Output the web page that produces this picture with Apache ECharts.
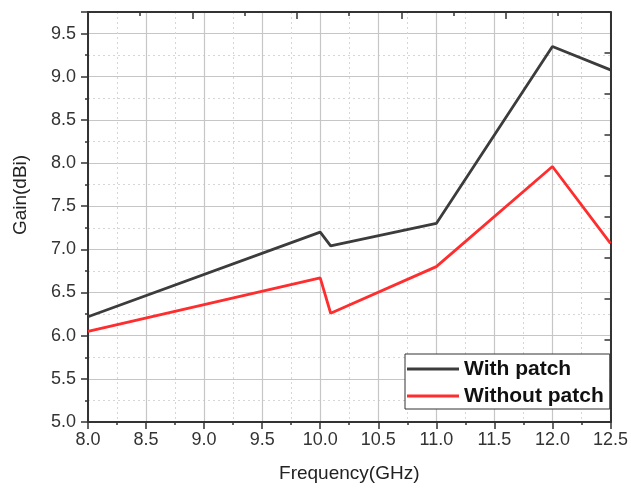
<!DOCTYPE html>
<html>
<head>
<meta charset="utf-8">
<script src="https://cdn.jsdelivr.net/npm/echarts@6/dist/echarts.min.js"></script>
<style>
html,body{margin:0;padding:0;background:#fff;}
#chart{width:631px;height:488px;}
</style>
</head>
<body>
<div id="chart"></div>
<script>
var seriesNames = ['With patch', 'Without patch'];
var freq = [8.0, 10.0, 10.09, 11.0, 12.0, 12.5];
var withPatch = [6.22, 7.20, 7.04, 7.30, 9.35, 9.08];
var withoutPatch = [6.05, 6.67, 6.26, 6.80, 7.96, 7.07];
var xName = 'Frequency(GHz)';
var yName = 'Gain(dBi)';

function pairs(xs, ys) { return xs.map(function (x, i) { return [x, ys[i]]; }); }

var FONT = 'Liberation Sans, Arial, sans-serif';
var chart = echarts.init(document.getElementById('chart'), null, {renderer: 'canvas'});
chart.setOption({
  backgroundColor: '#ffffff',
  animation: false,
  grid: {left: 88, right: 18, top: 12, bottom: 65, containLabel: false},
  legend: {
    orient: 'vertical',
    left: 405, top: 354,
    backgroundColor: '#ffffff',
    borderColor: '#333333', borderWidth: 1, borderRadius: 0,
    padding: [4, 6, 2, 2],
    icon: 'rect',
    itemWidth: 52, itemHeight: 3, itemGap: 5,
    textStyle: {fontFamily: FONT, fontSize: 21, fontWeight: 'bold', color: '#111', lineHeight: 22},
    data: seriesNames
  },
  xAxis: [{
    type: 'value', position: 'bottom', min: 8, max: 12.5, interval: 0.5,
    name: xName, nameLocation: 'middle', nameGap: 42,
    nameTextStyle: {fontFamily: FONT, fontSize: 19, color: '#222'},
    axisLine: {show: true, onZero: false, lineStyle: {color: '#333', width: 2}},
    axisTick: {show: true, inside: false, length: 7, lineStyle: {color: '#333', width: 1.5}},
    minorTick: {show: true, splitNumber: 2, length: 3, lineStyle: {color: '#333', width: 1.5}},
    axisLabel: {fontFamily: FONT, fontSize: 18, color: '#333', margin: 9,
      formatter: function (v) { return v.toFixed(1); }},
    splitLine: {show: true, lineStyle: {color: '#c6c6c6', width: 1.2}},
    minorSplitLine: {show: true, lineStyle: {color: '#d6d6d6', width: 1, type: [2, 3]}}
  }, {
    type: 'value', position: 'top', min: 0, max: 5, interval: 1,
    axisLine: {show: true, onZero: false, lineStyle: {color: '#333', width: 2}},
    axisTick: {show: true, inside: true, length: 7, lineStyle: {color: '#333', width: 1.5}},
    minorTick: {show: true, splitNumber: 2, length: 4, lineStyle: {color: '#333', width: 1.5}},
    axisLabel: {show: false},
    splitLine: {show: false}
  }],
  yAxis: [{
    type: 'value', position: 'left', min: 5, max: 9.75, interval: 0.25,
    axisLine: {show: false},
    axisTick: {show: true, inside: false, length: 3, lineStyle: {color: '#333', width: 1.5}},
    axisLabel: {show: false},
    splitLine: {show: true, lineStyle: {color: '#d6d6d6', width: 1, type: [2, 3]}}
  }, {
    type: 'value', position: 'left', min: 5, max: 9.75, interval: 0.5,
    name: yName, nameLocation: 'middle', nameGap: 58, nameRotate: 90,
    nameTextStyle: {fontFamily: FONT, fontSize: 19, color: '#222', padding: [0, 0, 0, 44]},
    axisLine: {show: true, onZero: false, lineStyle: {color: '#333', width: 2}},
    axisTick: {show: true, inside: false, length: 7, lineStyle: {color: '#333', width: 1.5}},
    axisLabel: {fontFamily: FONT, fontSize: 18, color: '#333', margin: 12,
      formatter: function (v) { return Math.abs(v * 2 - Math.round(v * 2)) > 1e-6 ? '' : v.toFixed(1); }},
    splitLine: {show: true, lineStyle: {color: '#c6c6c6', width: 1.2}}
  }, {
    type: 'value', position: 'right', min: 0, max: 10, interval: 1,
    axisLine: {show: true, onZero: false, lineStyle: {color: '#333', width: 2}},
    axisTick: {show: true, inside: true, length: 6, lineStyle: {color: '#333', width: 1.5}},
    axisLabel: {show: false},
    splitLine: {show: false}
  }],
  series: [{
    name: seriesNames[0], type: 'line', xAxisIndex: 0, yAxisIndex: 1,
    data: pairs(freq, withPatch), symbol: 'none', z: 3,
    lineStyle: {color: '#3c3c3c', width: 2.8}, itemStyle: {color: '#3c3c3c'}
  }, {
    name: seriesNames[1], type: 'line', xAxisIndex: 0, yAxisIndex: 1,
    data: pairs(freq, withoutPatch), symbol: 'none', z: 3,
    lineStyle: {color: '#ff2d2d', width: 2.8}, itemStyle: {color: '#ff2d2d'}
  }]
});
</script>
</body>
</html>
